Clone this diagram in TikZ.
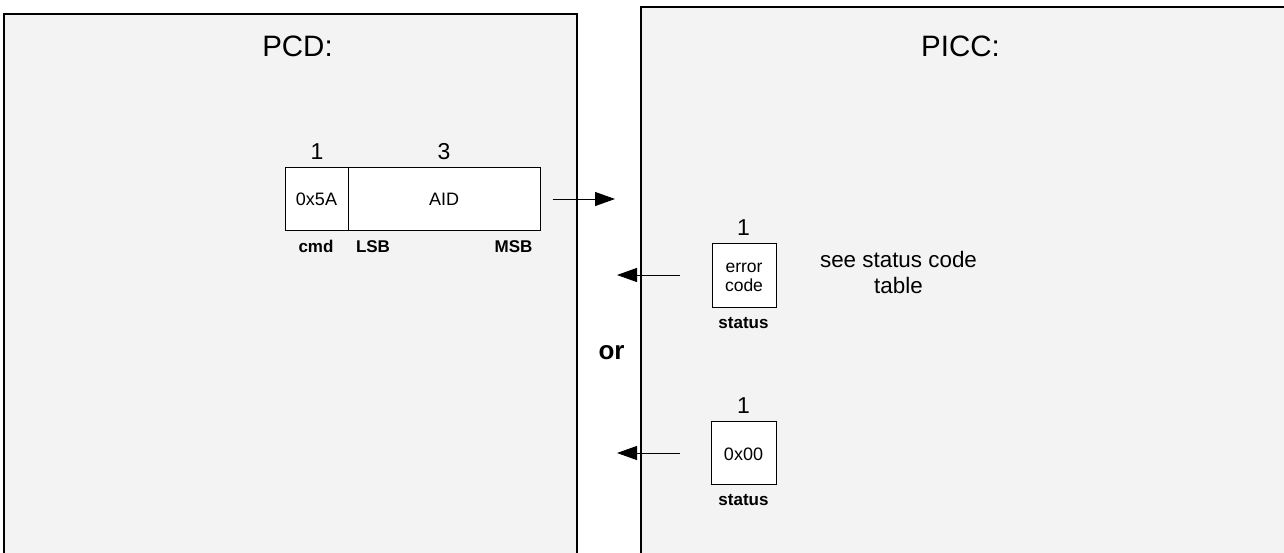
\documentclass[tikz,border=0pt]{standalone}
\usepackage{fontspec}
\setmainfont{Liberation Sans}
\usetikzlibrary{arrows.meta}
\definecolor{bgpanel}{RGB}{243,243,243}
\begin{document}
\begin{tikzpicture}[x=1pt,y=-1pt,
  panel/.style={draw=black,line width=1.3pt,fill=bgpanel},
  field/.style={draw=black,line width=0.9pt,fill=white,inner sep=0pt,minimum height=63pt},
  fieldtext/.style={anchor=base,inner sep=0pt,font=\fontsize{18}{20}\selectfont},
  sizetext/.style={anchor=base,inner sep=0pt,font=\fontsize{23}{26}\selectfont},
  title/.style={anchor=base,inner sep=0pt,font=\fontsize{29.5}{32}\selectfont},
  lbl/.style={anchor=base,inner sep=0pt,font=\bfseries\fontsize{17}{19}\selectfont},
  msg/.style={-{Triangle[length=20pt,width=14pt]},line width=1pt}
]
\useasboundingbox (0,0) rectangle (1284,552);
\fill[white] (0,0) rectangle (1284,552);
% panels
\draw[panel] (4,14) rectangle (577,570);
\draw[panel] (641,7) rectangle (1300,570);
\node[title] (pcd) at (297.5,56) {PCD:};
\node[title] (picc) at (960.5,56) {PICC:};
% command frame
\node[field,minimum width=63pt] (cmd) at (316.5,198.5) {};
\node[field,minimum width=192pt] (aid) at (444,198.5) {};
\node[fieldtext] (cmdv) at (316.5,205) {0x5A};
\node[fieldtext] (aidv) at (444,205) {AID};
\node[sizetext] (n1) at (317,159) {1};
\node[sizetext] (n3) at (444,159) {3};
\node[lbl] (lcmd) at (316,252) {cmd};
\node[lbl] (llsb) at (373,252) {LSB};
\node[lbl] (lmsb) at (513.5,252) {MSB};
% error response
\node[field,minimum width=64pt,minimum height=64pt] (err) at (744,275) {};
\node[fieldtext,font=\fontsize{17.5}{19}\selectfont] (errv1) at (744,272) {error};
\node[fieldtext,font=\fontsize{17.5}{19}\selectfont] (errv2) at (744,291.5) {code};
\node[sizetext] (e1) at (743.5,235) {1};
\node[lbl] (est) at (743.5,328) {status};
\node[anchor=base,inner sep=0pt,font=\fontsize{22.4}{26}\selectfont] (see1) at (898.5,267) {see status code};
\node[anchor=base,inner sep=0pt,font=\fontsize{22.4}{26}\selectfont] (see2) at (898.5,293) {table};
% ok response
\node[field,minimum width=65pt,minimum height=63pt] (ok) at (743.5,452.5) {};
\node[fieldtext] (okv) at (743.5,460) {0x00};
\node[sizetext] (o1) at (743.5,413) {1};
\node[lbl] (ost) at (743.5,505) {status};
\node[anchor=base,inner sep=0pt,font=\bfseries\fontsize{26}{28}\selectfont] (or) at (611.5,359) {or};
% arrows
\coordinate (a1s) at (552.5,199);
\coordinate (a1e) at (615,199);
\coordinate (a2s) at (680,275);
\coordinate (a2e) at (617,275);
\coordinate (a3s) at (680,453);
\coordinate (a3e) at (617,453);
\draw[msg] (a1s) -- (a1e);
\draw[msg] (a2s) -- (a2e);
\draw[msg] (a3s) -- (a3e);
\end{tikzpicture}
\end{document}
